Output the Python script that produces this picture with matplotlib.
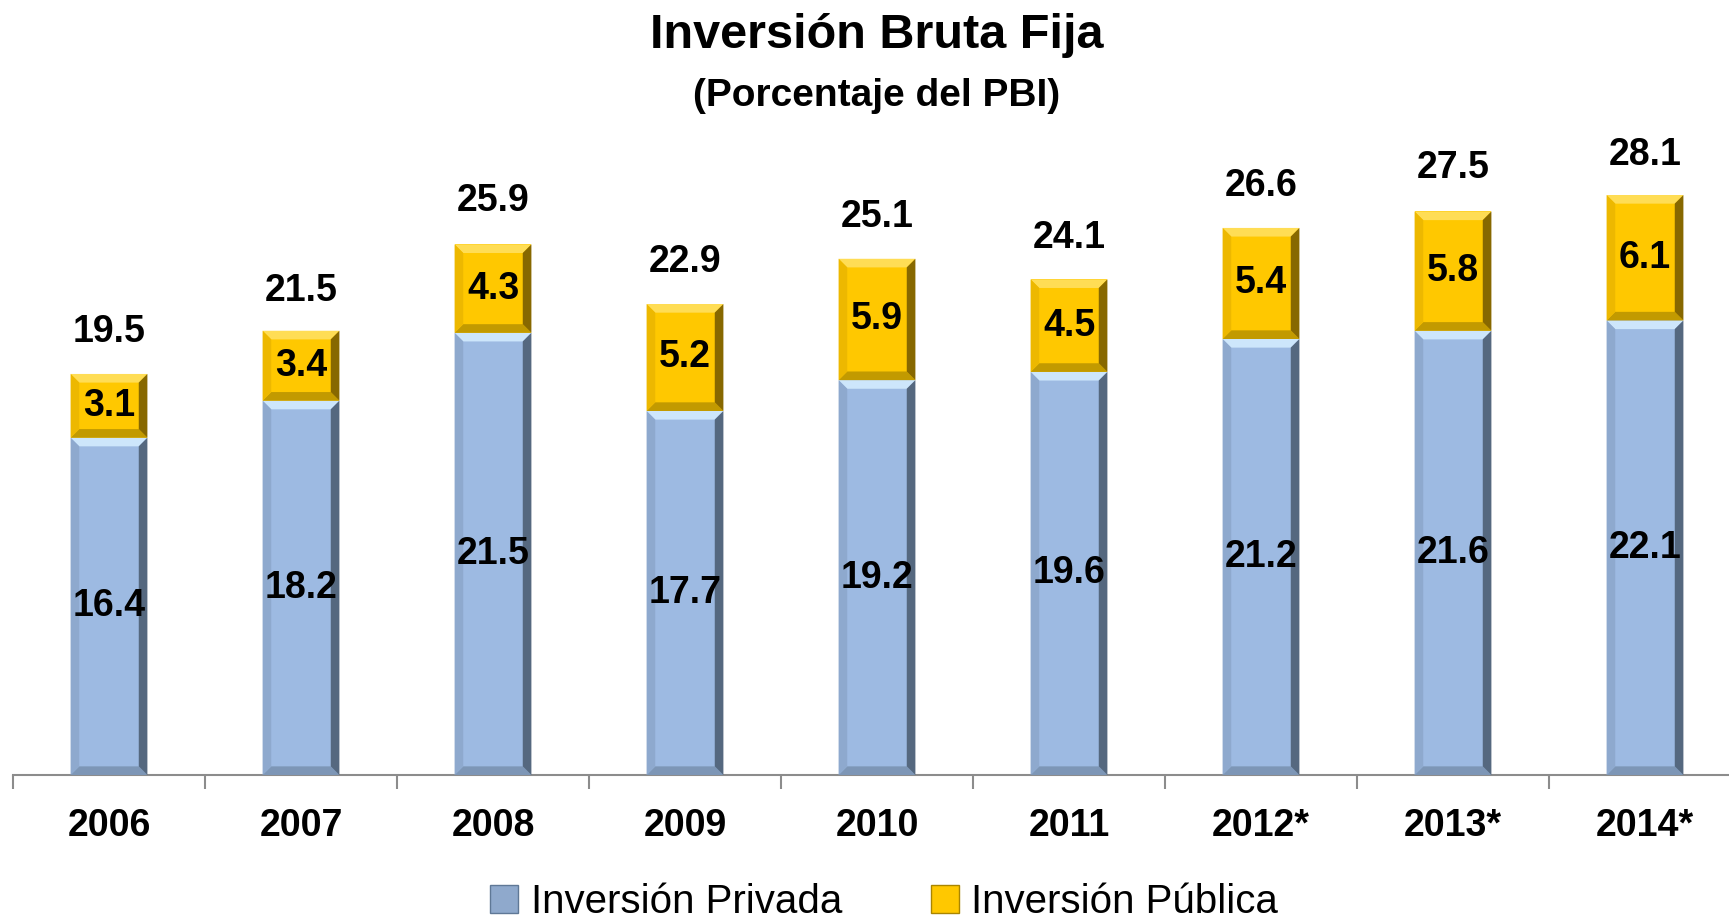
import matplotlib
matplotlib.use("Agg")
import matplotlib.pyplot as plt
from matplotlib.patches import Polygon, Patch
import numpy as np

# data
years = ["2006", "2007", "2008", "2009", "2010", "2011", "2012*", "2013*", "2014*"]
privada = [16.4, 18.2, 21.5, 17.7, 19.2, 19.6, 21.2, 21.6, 22.1]
publica = [3.1, 3.4, 4.3, 5.2, 5.9, 4.5, 5.4, 5.8, 6.1]
total = [19.5, 21.5, 25.9, 22.9, 25.1, 24.1, 26.6, 27.5, 28.1]

blue = "#9DBAE2"
gold = "#FFC800"
# bevel shades: top, bottom, left, right
blue_bevel = ["#CDE6FB", "#7D96B6", "#8EA9CE", "#55687F"]
gold_bevel = ["#FFDD55", "#C29A00", "#EDB800", "#876800"]

plt.rcParams["font.family"] = ["Liberation Sans", "DejaVu Sans"]

fig = plt.figure(figsize=(17.29, 9.22), dpi=100)
ax = fig.add_axes([13 / 1729, 1 - 775 / 922, 1728 / 1729, 617 / 922])

x = np.arange(len(years))
w = 0.4
b1 = ax.bar(x, privada, w, color=blue, edgecolor="none", zorder=2)
b2 = ax.bar(x, publica, w, bottom=privada, color=gold, edgecolor="none", zorder=2)


def bevel(rect, shades, dx=0.045, dy=0.42):
    x0, y0 = rect.get_x(), rect.get_y()
    x1, y1 = x0 + rect.get_width(), y0 + rect.get_height()
    top = [(x0, y1), (x1, y1), (x1 - dx, y1 - dy), (x0 + dx, y1 - dy)]
    bot = [(x0, y0), (x1, y0), (x1 - dx, y0 + dy), (x0 + dx, y0 + dy)]
    left = [(x0, y0), (x0, y1), (x0 + dx, y1 - dy), (x0 + dx, y0 + dy)]
    right = [(x1, y0), (x1, y1), (x1 - dx, y1 - dy), (x1 - dx, y0 + dy)]
    for pts, c in zip([top, bot, left, right], shades):
        ax.add_patch(Polygon(pts, closed=True, facecolor=c, edgecolor="none", zorder=3))


for r in b1:
    bevel(r, blue_bevel)
for r in b2:
    bevel(r, gold_bevel)

lab = dict(fontsize=27, fontweight="bold", ha="center", va="center", zorder=5)
for i in range(len(years)):
    ax.text(x[i], privada[i] / 2, f"{privada[i]:.1f}", **lab)
    ax.text(x[i], privada[i] + publica[i] / 2, f"{publica[i]:.1f}", **lab)
    ax.annotate(f"{total[i]:.1f}", (x[i], total[i]), xytext=(0, 30),
                textcoords="offset points", **lab)

ax.set_xlim(-0.5, len(years) - 0.5)
ax.set_ylim(0, 30)
ax.set_yticks([])
for s in ["top", "right", "left"]:
    ax.spines[s].set_visible(False)
ax.spines["bottom"].set_color("#8C8C8C")
ax.spines["bottom"].set_linewidth(1.5)

ax.set_xticks(np.arange(len(years) + 1) - 0.5, minor=False)
ax.set_xticklabels([])
ax.tick_params(axis="x", which="major", length=10, width=1.5, color="#8C8C8C")
ax.set_xticks(x, minor=True)
ax.set_xticklabels(years, minor=True, fontsize=27, fontweight="bold")
ax.tick_params(axis="x", which="minor", length=0, pad=24)

fig.text(877 / 1729, 1 - 36 / 922, "Inversión Bruta Fija", ha="center", va="center",
         fontsize=35, fontweight="bold")
fig.text(877 / 1729, 1 - 96 / 922, "(Porcentaje del PBI)", ha="center", va="center",
         fontsize=28, fontweight="bold")

handles = [Patch(facecolor="#8FA9CC", edgecolor="#5F7896"),
           Patch(facecolor=gold, edgecolor="#A98500")]
fig.legend(handles, ["Inversión Privada", "Inversión Pública"], loc="center",
           bbox_to_anchor=(884 / 1729, 1 - 902 / 922), ncol=2, frameon=False,
           fontsize=29, handlelength=0.7, handleheight=0.7, handletextpad=0.3,
           columnspacing=2.2)

fig.savefig("out.png", dpi=100)
